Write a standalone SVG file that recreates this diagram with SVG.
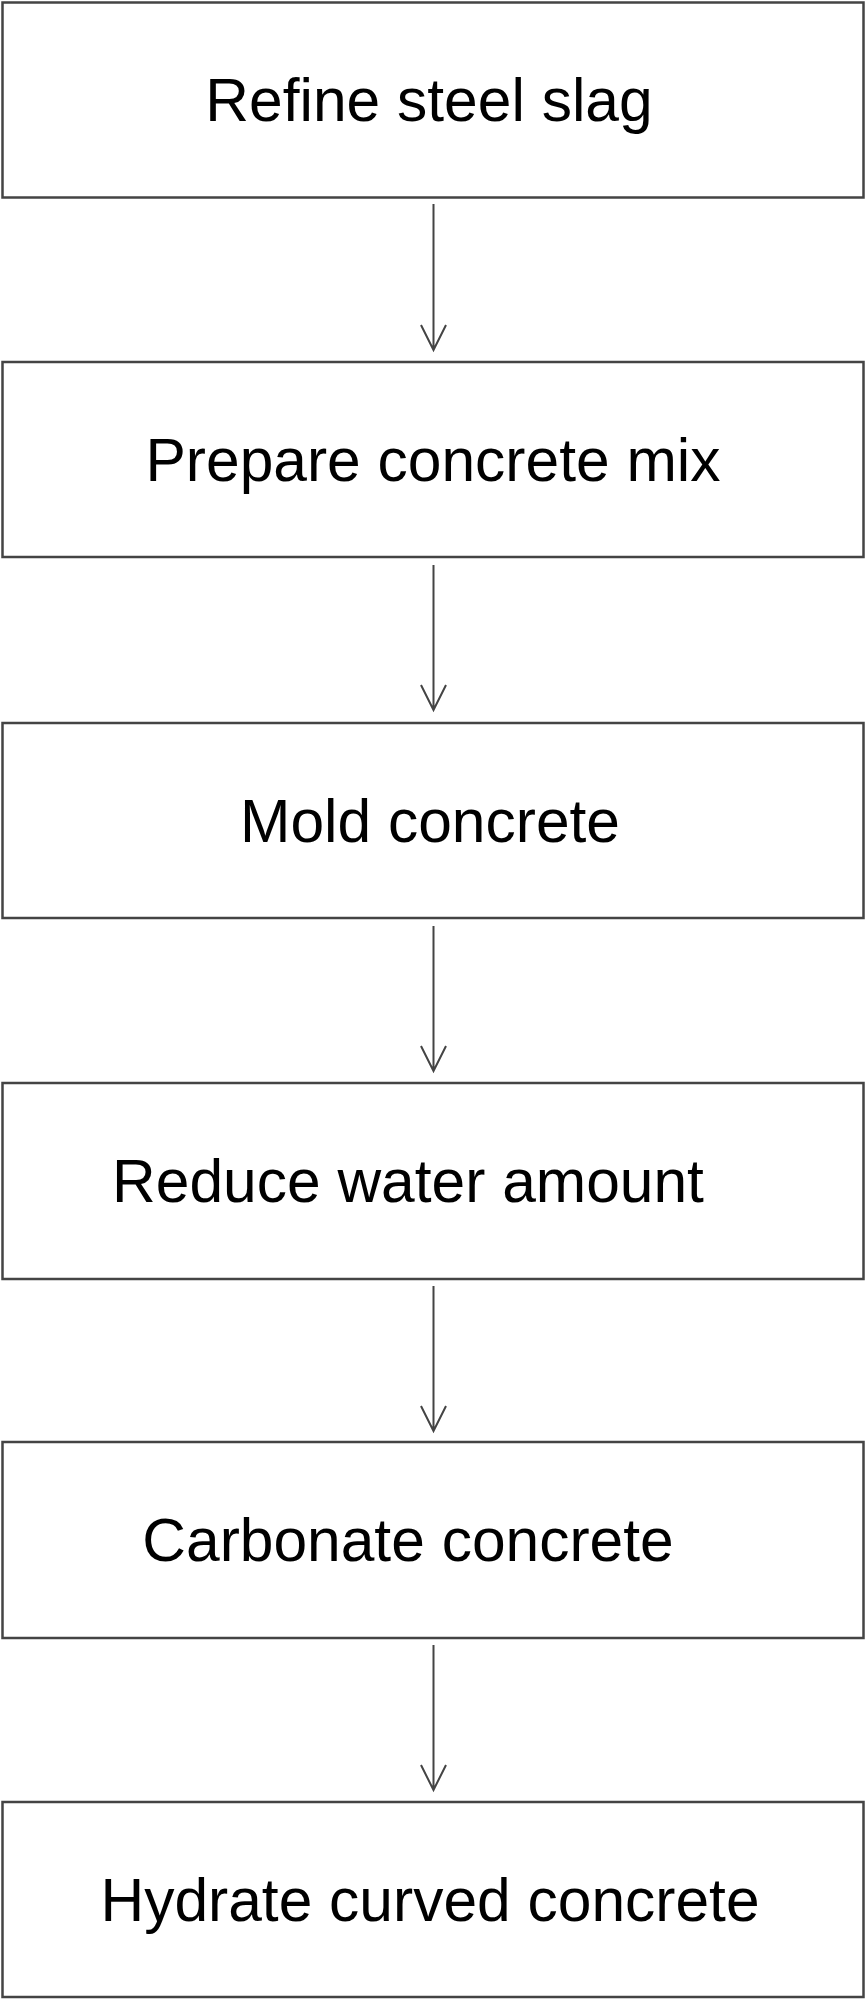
<svg xmlns="http://www.w3.org/2000/svg" width="866" height="2000" viewBox="0 0 866 2000">
<style>
.box{fill:#fff;stroke:#444;stroke-width:2.5}
.t{font-family:"Liberation Sans",Arial,sans-serif;font-size:60.5px;fill:#000;text-anchor:middle}
.c{stroke:#444;stroke-width:2;fill:none}
</style>
<rect width="866" height="2000" fill="#fff"/>
<g id="n1"><rect class="box" x="2.5" y="2.5" width="861" height="195"/><text class="t" x="429" y="121">Refine steel slag</text></g>
<g id="n2"><rect class="box" x="2.5" y="362" width="861" height="195"/><text class="t" x="433" y="481">Prepare concrete mix</text></g>
<g id="n3"><rect class="box" x="2.5" y="723" width="861" height="195"/><text class="t" x="430" y="842">Mold concrete</text></g>
<g id="n4"><rect class="box" x="2.5" y="1083" width="861" height="196"/><text class="t" x="408" y="1202">Reduce water amount</text></g>
<g id="n5"><rect class="box" x="2.5" y="1442" width="861" height="196"/><text class="t" x="408" y="1561">Carbonate concrete</text></g>
<g id="n6"><rect class="box" x="2.5" y="1802" width="861" height="195"/><text class="t" x="430" y="1921">Hydrate curved concrete</text></g>
<g id="connectors">
<path class="c" d="M433.5 204V350M421 325l12.5 25l12.5-25"/>
<path class="c" d="M433.5 565V710M421 685l12.5 25l12.5-25"/>
<path class="c" d="M433.5 926V1071M421 1046l12.5 25l12.5-25"/>
<path class="c" d="M433.5 1286V1431M421 1406l12.5 25l12.5-25"/>
<path class="c" d="M433.5 1645V1790M421 1765l12.5 25l12.5-25"/>
</g>
</svg>
